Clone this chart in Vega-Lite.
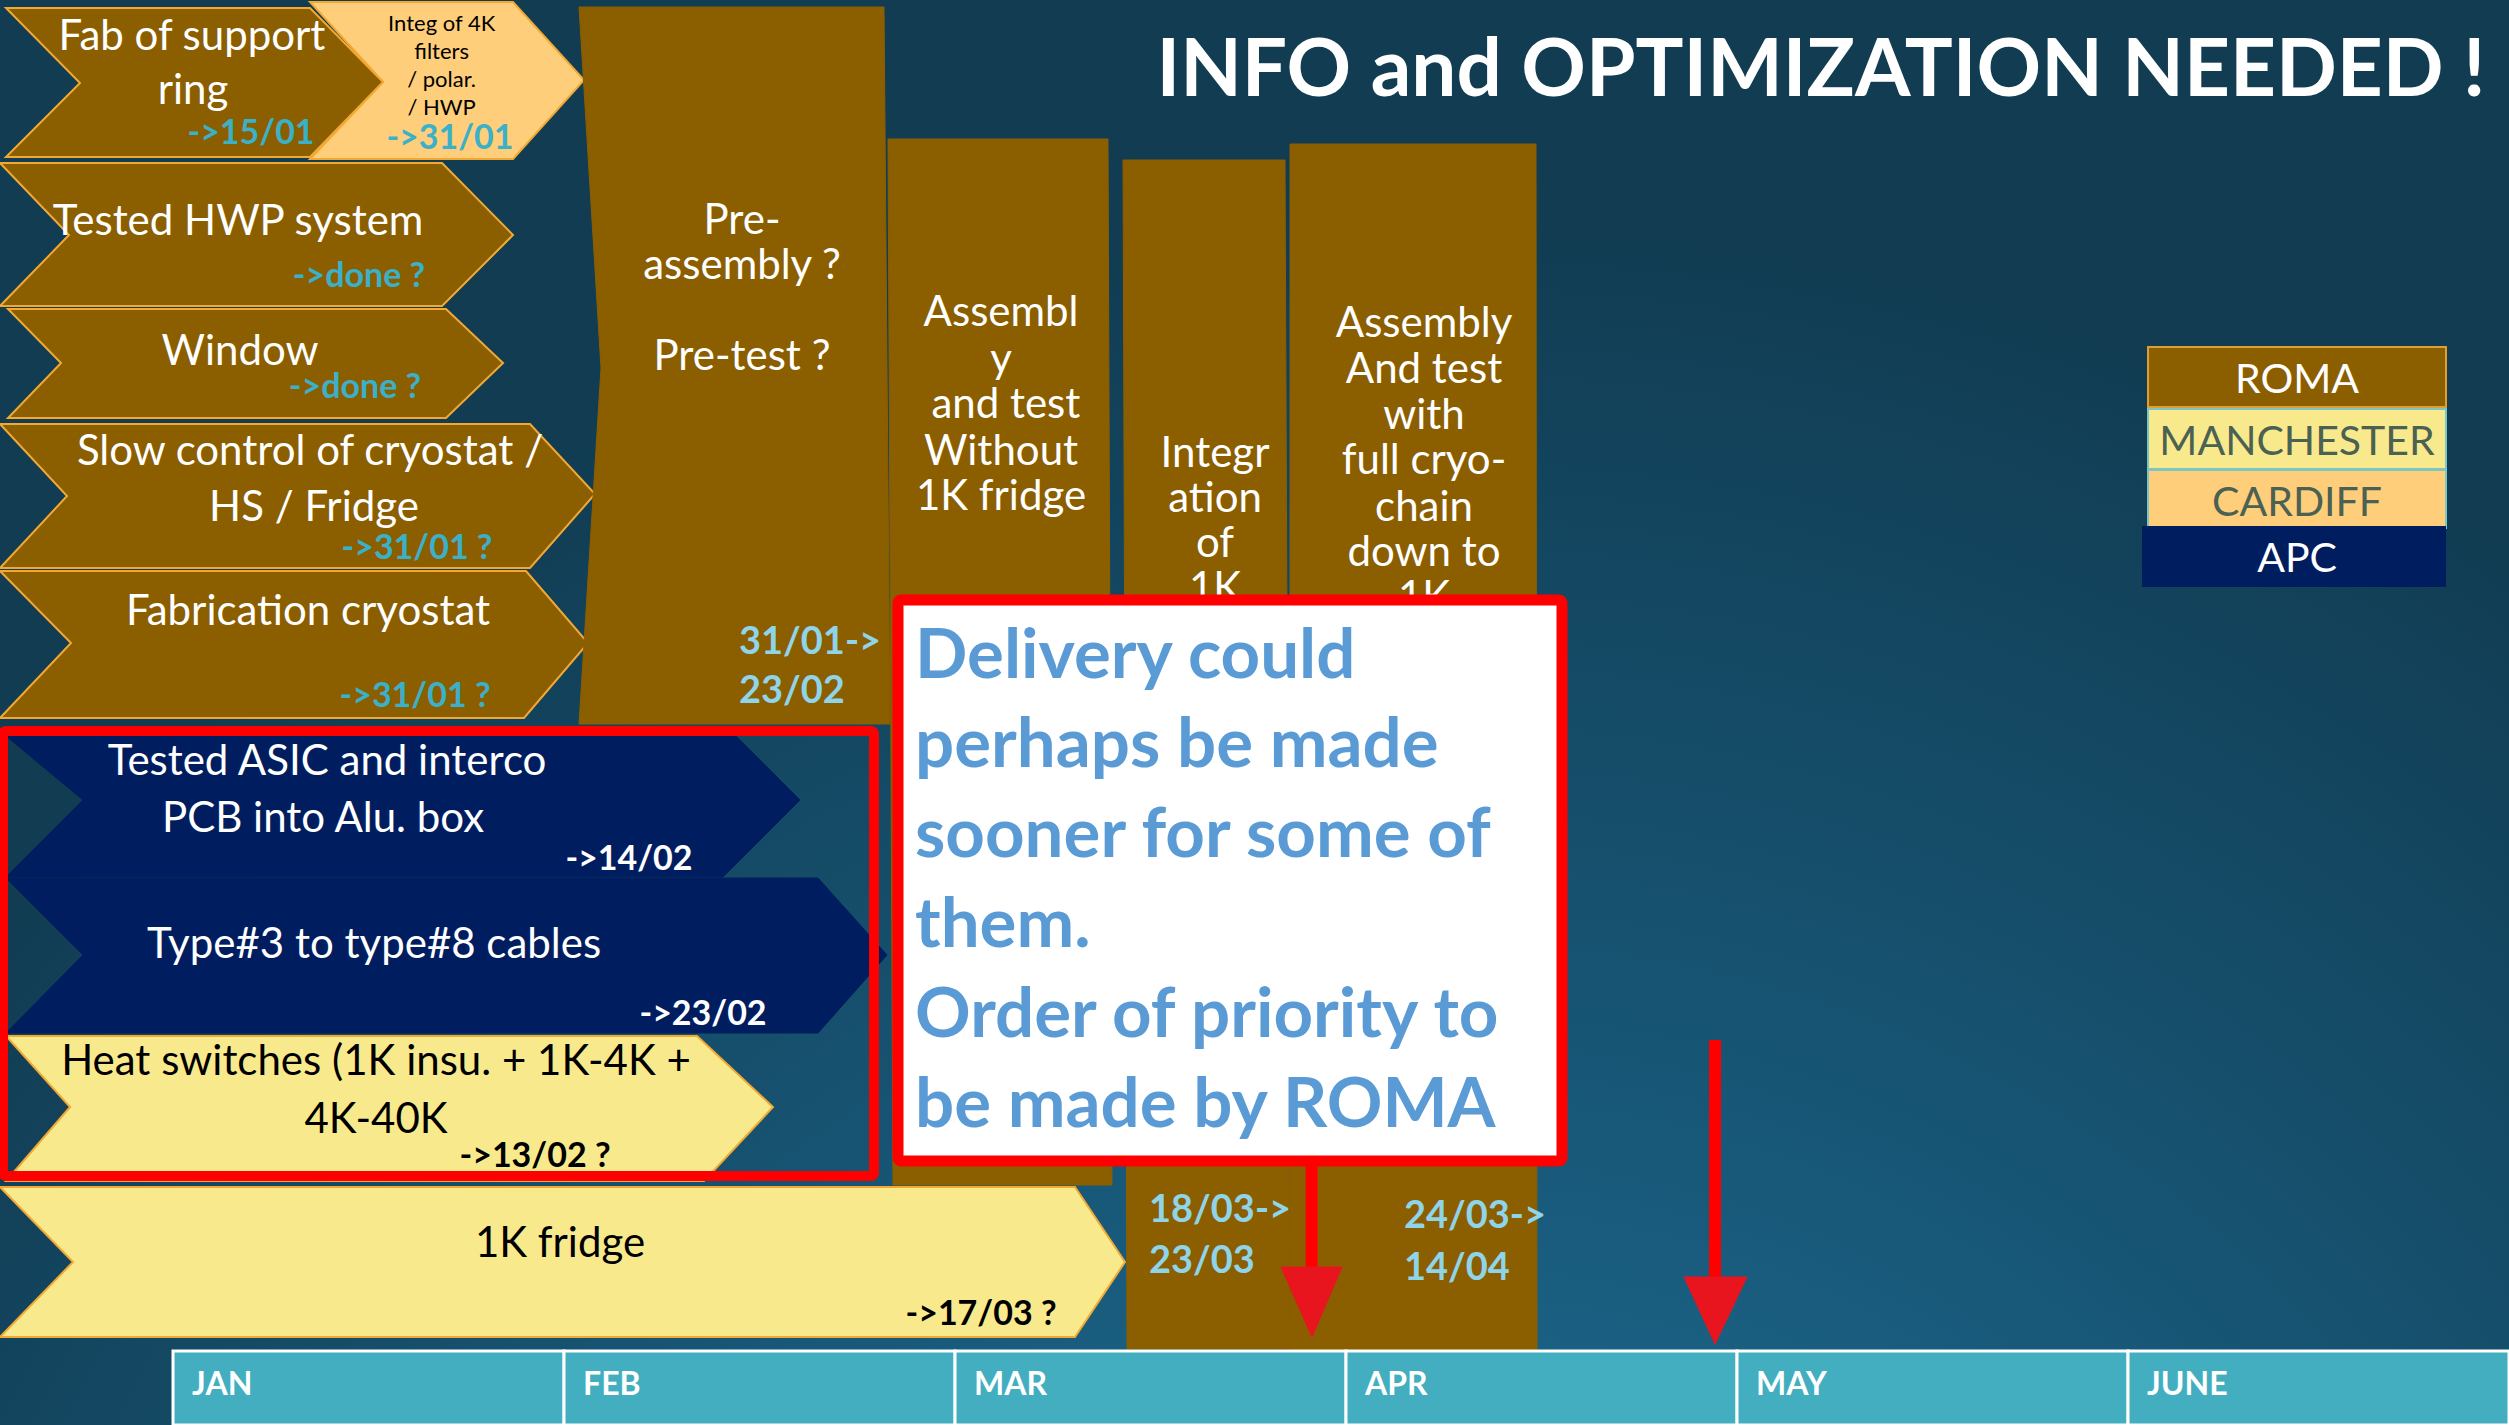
{
"$schema": "https://vega.github.io/schema/vega-lite/v6.json",
"width": 2509, "height": 1425, "autosize": "none", "padding": 0,
"background": "#113C52",
"config": {"view": {"stroke": null}},
"datasets": {
"poly": [
{"g":"cardiff","id":"B","o":1,"x":0.3504,"y":2},{"g":"cardiff","id":"B","o":2,"x":0.8696,"y":2},{"g":"cardiff","id":"B","o":3,"x":1.0512,"y":80},{"g":"cardiff","id":"B","o":4,"x":0.8696,"y":159},{"g":"cardiff","id":"B","o":5,"x":0.3504,"y":159},{"g":"cardiff","id":"B","o":6,"x":0.5371,"y":82},
{"g":"romac","id":"A","o":1,"x":-0.4271,"y":8},{"g":"romac","id":"A","o":2,"x":0.3504,"y":8},{"g":"romac","id":"A","o":3,"x":0.5371,"y":82},{"g":"romac","id":"A","o":4,"x":0.3504,"y":157},{"g":"romac","id":"A","o":5,"x":-0.4271,"y":157},{"g":"romac","id":"A","o":6,"x":-0.2379,"y":83},
{"g":"romac","id":"C","o":1,"x":-0.4425,"y":163},{"g":"romac","id":"C","o":2,"x":0.6880,"y":163},{"g":"romac","id":"C","o":3,"x":0.8696,"y":235},{"g":"romac","id":"C","o":4,"x":0.6880,"y":306},{"g":"romac","id":"C","o":5,"x":-0.4425,"y":306},{"g":"romac","id":"C","o":6,"x":-0.2660,"y":235},
{"g":"romac","id":"D","o":1,"x":-0.4220,"y":309},{"g":"romac","id":"D","o":2,"x":0.6982,"y":309},{"g":"romac","id":"D","o":3,"x":0.8440,"y":363},{"g":"romac","id":"D","o":4,"x":0.6982,"y":418},{"g":"romac","id":"D","o":5,"x":-0.4220,"y":418},{"g":"romac","id":"D","o":6,"x":-0.2864,"y":363},
{"g":"romac","id":"E","o":1,"x":-0.4425,"y":424},{"g":"romac","id":"E","o":2,"x":0.9130,"y":424},{"g":"romac","id":"E","o":3,"x":1.0793,"y":494},{"g":"romac","id":"E","o":4,"x":0.9130,"y":568},{"g":"romac","id":"E","o":5,"x":-0.4425,"y":568},{"g":"romac","id":"E","o":6,"x":-0.2711,"y":496},
{"g":"romac","id":"F","o":1,"x":-0.4425,"y":571},{"g":"romac","id":"F","o":2,"x":0.9028,"y":571},{"g":"romac","id":"F","o":3,"x":1.0614,"y":643},{"g":"romac","id":"F","o":4,"x":0.8977,"y":718},{"g":"romac","id":"F","o":5,"x":-0.4425,"y":718},{"g":"romac","id":"F","o":6,"x":-0.2609,"y":643},
{"g":"apc","id":"K","o":1,"x":-0.4271,"y":736},{"g":"apc","id":"K","o":2,"x":1.4399,"y":736},{"g":"apc","id":"K","o":3,"x":1.6036,"y":800},{"g":"apc","id":"K","o":4,"x":1.4066,"y":877},{"g":"apc","id":"K","o":5,"x":-0.4271,"y":877},{"g":"apc","id":"K","o":6,"x":-0.2302,"y":800},
{"g":"apc","id":"K2","o":1,"x":-0.4271,"y":878},{"g":"apc","id":"K2","o":2,"x":1.6496,"y":878},{"g":"apc","id":"K2","o":3,"x":1.8261,"y":955},{"g":"apc","id":"K2","o":4,"x":1.6496,"y":1033},{"g":"apc","id":"K2","o":5,"x":-0.4271,"y":1033},{"g":"apc","id":"K2","o":6,"x":-0.2302,"y":955},
{"g":"manch","id":"L","o":1,"x":-0.4271,"y":1036},{"g":"manch","id":"L","o":2,"x":1.3402,"y":1036},{"g":"manch","id":"L","o":3,"x":1.5345,"y":1107},{"g":"manch","id":"L","o":4,"x":1.3581,"y":1181},{"g":"manch","id":"L","o":5,"x":-0.4271,"y":1181},{"g":"manch","id":"L","o":6,"x":-0.2634,"y":1107},
{"g":"manch","id":"M","o":1,"x":-0.4425,"y":1187},{"g":"manch","id":"M","o":2,"x":2.3069,"y":1187},{"g":"manch","id":"M","o":3,"x":2.4348,"y":1262},{"g":"manch","id":"M","o":4,"x":2.3069,"y":1337},{"g":"manch","id":"M","o":5,"x":-0.4425,"y":1337},{"g":"manch","id":"M","o":6,"x":-0.2558,"y":1262},
{"g":"romab","id":"G","o":1,"x":1.0384,"y":7},{"g":"romab","id":"G","o":2,"x":1.8184,"y":7},{"g":"romab","id":"G","o":3,"x":1.8338,"y":724},{"g":"romab","id":"G","o":4,"x":1.0384,"y":724},{"g":"romab","id":"G","o":5,"x":1.0946,"y":368},
{"g":"romab","id":"H","o":1,"x":1.8286,"y":139},{"g":"romab","id":"H","o":2,"x":2.3913,"y":139},{"g":"romab","id":"H","o":3,"x":2.4015,"y":1185},{"g":"romab","id":"H","o":4,"x":1.8414,"y":1185},
{"g":"romab","id":"I","o":1,"x":2.4297,"y":160},{"g":"romab","id":"I","o":2,"x":2.8440,"y":160},{"g":"romab","id":"I","o":3,"x":2.8568,"y":1349},{"g":"romab","id":"I","o":4,"x":2.4399,"y":1349},
{"g":"romab","id":"J","o":1,"x":2.8568,"y":144},{"g":"romab","id":"J","o":2,"x":3.4859,"y":144},{"g":"romab","id":"J","o":3,"x":3.4885,"y":1351},{"g":"romab","id":"J","o":4,"x":2.8568,"y":1351},
{"g":"arrow","id":"T1","o":1,"x":2.8338,"y":1267},{"g":"arrow","id":"T1","o":2,"x":2.9898,"y":1267},{"g":"arrow","id":"T1","o":3,"x":2.9130,"y":1337},
{"g":"arrow","id":"T2","o":1,"x":3.8645,"y":1277},{"g":"arrow","id":"T2","o":2,"x":4.0256,"y":1277},{"g":"arrow","id":"T2","o":3,"x":3.9437,"y":1344}
],
"rects": [
{"g":"bg","k":"bg","x":-0.4425,"x2":5.9744,"y":0,"y2":1425},
{"g":"white","k":"note","x":1.8542,"x2":3.5524,"y":600,"y2":1161},
{"g":"red","k":"frame","x":-0.4348,"x2":1.7928,"y":731,"y2":1176},
{"g":"legend","k":"ROMA","x":5.0512,"x2":5.8133,"y":347,"y2":407},
{"g":"legend","k":"MANCHESTER","x":5.0512,"x2":5.8133,"y":409,"y2":469},
{"g":"legend","k":"CARDIFF","x":5.0512,"x2":5.8133,"y":470,"y2":528},
{"g":"legend","k":"APC","x":5.0384,"x2":5.8107,"y":527,"y2":586}
],
"months": [
{"t":"JAN","x":0,"x2":1,"y":1351,"y2":1425},
{"t":"FEB","x":1,"x2":2,"y":1351,"y2":1425},
{"t":"MAR","x":2,"x2":3,"y":1351,"y2":1425},
{"t":"APR","x":3,"x2":4,"y":1351,"y2":1425},
{"t":"MAY","x":4,"x2":5,"y":1351,"y2":1425},
{"t":"JUNE","x":5,"x2":5.9744,"y":1351,"y2":1425}
],
"arrows": [
{"x":2.912,"y":1161,"y2":1272},
{"x":3.9437,"y":1040,"y2":1282}
],
"texts": [
{"k":"task","t":"Fab of support","x":0.0486,"y":50},
{"k":"task","t":"ring","x":0.0512,"y":104},
{"k":"task","t":"Tested HWP system","x":0.1662,"y":235},
{"k":"task","t":"Window","x":0.1714,"y":365},
{"k":"task","t":"Slow control of cryostat /","x":0.3504,"y":465},
{"k":"task","t":"HS / Fridge","x":0.3606,"y":521},
{"k":"task","t":"Fabrication cryostat","x":0.3453,"y":625},
{"k":"task","t":"Pre-","x":1.4552,"y":234},
{"k":"task","t":"assembly ?","x":1.4552,"y":279},
{"k":"task","t":"Pre-test ?","x":1.4552,"y":370},
{"k":"task","t":"Assembl","x":2.1176,"y":326},
{"k":"task","t":"y","x":2.1176,"y":373},
{"k":"task","t":"and test","x":2.1300,"y":418},
{"k":"task","t":"Without","x":2.1176,"y":465},
{"k":"task","t":"1K fridge","x":2.1176,"y":510},
{"k":"task","t":"Integr","x":2.6650,"y":467},
{"k":"task","t":"ation","x":2.6650,"y":512},
{"k":"task","t":"of","x":2.6650,"y":557},
{"k":"task","t":"1K","x":2.6650,"y":602},
{"k":"task","t":"Assembly","x":3.1995,"y":337},
{"k":"task","t":"And test","x":3.1995,"y":383},
{"k":"task","t":"with","x":3.1995,"y":429},
{"k":"task","t":"full cryo-","x":3.1995,"y":474},
{"k":"task","t":"chain","x":3.1995,"y":521},
{"k":"task","t":"down to","x":3.1995,"y":566},
{"k":"task","t":"1K","x":3.1995,"y":611},
{"k":"task","t":"Tested ASIC and interco","x":0.3939,"y":775},
{"k":"task","t":"PCB into Alu. box","x":0.3836,"y":832},
{"k":"task","t":"Type#3 to type#8 cables","x":0.5141,"y":958},
{"k":"taskb","t":"Heat switches (1K insu. + 1K-4K +","x":0.5192,"y":1075},
{"k":"taskb","t":"4K-40K","x":0.5192,"y":1133},
{"k":"taskb","t":"1K fridge","x":0.9898,"y":1257},
{"k":"tiny","t":"Integ of 4K","x":0.687,"y":31},
{"k":"tiny","t":"filters","x":0.687,"y":59},
{"k":"tiny","t":"/ polar.","x":0.687,"y":87},
{"k":"tiny","t":"/ HWP","x":0.687,"y":115},
{"k":"due","t":"->15/01","x":0.1995,"y":144},
{"k":"due","t":"->31/01","x":0.7084,"y":149},
{"k":"due","t":"->done ?","x":0.4757,"y":287},
{"k":"due","t":"->done ?","x":0.4655,"y":398},
{"k":"due","t":"->31/01 ?","x":0.6240,"y":559},
{"k":"due","t":"->31/01 ?","x":0.6189,"y":707},
{"k":"dueb","t":"->13/02 ?","x":0.9258,"y":1167},
{"k":"dueb","t":"->17/03 ?","x":2.0665,"y":1325},
{"k":"duew","t":"->14/02","x":1.1662,"y":870},
{"k":"duew","t":"->23/02","x":1.3555,"y":1025},
{"k":"span","t":"31/01->","x":1.4476,"y":654},
{"k":"span","t":"23/02","x":1.4476,"y":703},
{"k":"span","t":"18/03->","x":2.4962,"y":1222},
{"k":"span","t":"23/03","x":2.4962,"y":1273},
{"k":"span","t":"24/03->","x":3.1483,"y":1228},
{"k":"span","t":"14/04","x":3.1483,"y":1280},
{"k":"note","t":"Delivery could","x":1.8977,"y":678},
{"k":"note","t":"perhaps be made","x":1.8977,"y":767},
{"k":"note","t":"sooner for some of","x":1.8977,"y":857},
{"k":"note","t":"them.","x":1.8977,"y":947},
{"k":"note","t":"Order of priority to","x":1.8977,"y":1037},
{"k":"note","t":"be made by ROMA","x":1.8977,"y":1127},
{"k":"leg","t":"ROMA","x":5.4322,"y":393},
{"k":"leg","t":"MANCHESTER","x":5.4322,"y":455},
{"k":"leg","t":"CARDIFF","x":5.4322,"y":516},
{"k":"leg","t":"APC","x":5.4322,"y":572},
{"k":"title","t":"INFO and OPTIMIZATION NEEDED !","x":4.2148,"y":96}
]
},
"encoding": {
"x": {"field":"x","type":"quantitative","scale":{"domain":[-0.4425,5.9744],"nice":false,"zero":false},"axis":null},
"y": {"field":"y","type":"quantitative","scale":{"domain":[0,1425],"reverse":true,"nice":false,"zero":false},"axis":null}
},
"layer": [
{"data":{"name":"rects"},"transform":[{"filter":"datum.g==='bg'"}],
 "mark":{"type":"rect","fill":{"gradient":"radial","x1":0.58,"y1":1.05,"r1":0,"x2":0.58,"y2":1.05,"r2":0.75,"stops":[{"offset":0,"color":"#237BA1"},{"offset":0.5,"color":"#18597A"},{"offset":1,"color":"#113C52"}]}},
 "encoding":{"x2":{"field":"x2"},"y2":{"field":"y2"}}},
{"data":{"name":"poly"},"transform":[{"filter":"datum.g==='cardiff'"}],
 "mark":{"type":"line","interpolate":"linear-closed","fill":"#FECE7A","stroke":"#F2A933","strokeWidth":2},
 "encoding":{"detail":{"field":"id"},"order":{"field":"o","type":"quantitative"}}},
{"data":{"name":"poly"},"transform":[{"filter":"datum.g==='romac'"}],
 "mark":{"type":"line","interpolate":"linear-closed","fill":"#8B5E00","stroke":"#F2A933","strokeWidth":2},
 "encoding":{"detail":{"field":"id"},"order":{"field":"o","type":"quantitative"}}},
{"data":{"name":"poly"},"transform":[{"filter":"datum.g==='apc'"}],
 "mark":{"type":"line","interpolate":"linear-closed","fill":"#001E5F","stroke":"#001E5F","strokeWidth":1},
 "encoding":{"detail":{"field":"id"},"order":{"field":"o","type":"quantitative"}}},
{"data":{"name":"poly"},"transform":[{"filter":"datum.g==='manch'"}],
 "mark":{"type":"line","interpolate":"linear-closed","fill":"#F8EA8C","stroke":"#F2A933","strokeWidth":2},
 "encoding":{"detail":{"field":"id"},"order":{"field":"o","type":"quantitative"}}},
{"data":{"name":"poly"},"transform":[{"filter":"datum.g==='romab'"}],
 "mark":{"type":"line","interpolate":"linear-closed","fill":"#8B5E00","stroke":"#8B5E00","strokeWidth":1},
 "encoding":{"detail":{"field":"id"},"order":{"field":"o","type":"quantitative"}}},
{"data":{"name":"texts"},"transform":[{"filter":"datum.k==='task'"}],
 "mark":{"type":"text","align":"center","baseline":"alphabetic","font":"Lato","fontSize":42,"fill":"#FFFFFF"},
 "encoding":{"text":{"field":"t"}}},
{"data":{"name":"texts"},"transform":[{"filter":"datum.k==='taskb'"}],
 "mark":{"type":"text","align":"center","baseline":"alphabetic","font":"Lato","fontSize":42,"fill":"#000000"},
 "encoding":{"text":{"field":"t"}}},
{"data":{"name":"texts"},"transform":[{"filter":"datum.k==='tiny'"}],
 "mark":{"type":"text","align":"center","baseline":"alphabetic","font":"Lato","fontSize":22,"fill":"#000000"},
 "encoding":{"text":{"field":"t"}}},
{"data":{"name":"texts"},"transform":[{"filter":"datum.k==='due'"}],
 "mark":{"type":"text","align":"center","baseline":"alphabetic","font":"Lato","fontSize":34,"fontWeight":"bold","fill":"#3BB0C9"},
 "encoding":{"text":{"field":"t"}}},
{"data":{"name":"texts"},"transform":[{"filter":"datum.k==='dueb'"}],
 "mark":{"type":"text","align":"center","baseline":"alphabetic","font":"Lato","fontSize":34,"fontWeight":"bold","fill":"#000000"},
 "encoding":{"text":{"field":"t"}}},
{"data":{"name":"texts"},"transform":[{"filter":"datum.k==='duew'"}],
 "mark":{"type":"text","align":"center","baseline":"alphabetic","font":"Lato","fontSize":34,"fontWeight":"bold","fill":"#FFFFFF"},
 "encoding":{"text":{"field":"t"}}},
{"data":{"name":"texts"},"transform":[{"filter":"datum.k==='span'"}],
 "mark":{"type":"text","align":"left","baseline":"alphabetic","font":"Lato","fontSize":38,"fontWeight":"bold","fill":"#8FD4E8"},
 "encoding":{"text":{"field":"t"}}},
{"data":{"name":"rects"},"transform":[{"filter":"datum.g==='white'"}],
 "mark":{"type":"rect","fill":"#FFFFFF","stroke":"#FF0000","strokeWidth":11,"cornerRadius":3},
 "encoding":{"x2":{"field":"x2"},"y2":{"field":"y2"}}},
{"data":{"name":"texts"},"transform":[{"filter":"datum.k==='note'"}],
 "mark":{"type":"text","align":"left","baseline":"alphabetic","font":"Lato","fontSize":69,"fontWeight":"bold","fill":"#5B9BD5"},
 "encoding":{"text":{"field":"t"}}},
{"data":{"name":"rects"},"transform":[{"filter":"datum.g==='red'"}],
 "mark":{"type":"rect","filled":false,"stroke":"#FF0000","strokeWidth":10,"cornerRadius":3},
 "encoding":{"x2":{"field":"x2"},"y2":{"field":"y2"}}},
{"data":{"name":"arrows"},
 "mark":{"type":"rule","stroke":"#FF0000","strokeWidth":12},
 "encoding":{"y2":{"field":"y2"}}},
{"data":{"name":"poly"},"transform":[{"filter":"datum.g==='arrow'"}],
 "mark":{"type":"line","interpolate":"linear-closed","fill":"#E8151E","stroke":"#E8151E","strokeWidth":1},
 "encoding":{"detail":{"field":"id"},"order":{"field":"o","type":"quantitative"}}},
{"data":{"name":"months"},
 "mark":{"type":"rect","fill":"#42AEBF","stroke":"#FFFFFF","strokeWidth":3},
 "encoding":{"x2":{"field":"x2"},"y2":{"field":"y2"}}},
{"data":{"name":"months"},
 "mark":{"type":"text","align":"left","baseline":"alphabetic","dx":19,"dy":44,"font":"Lato","fontSize":32,"fontWeight":"bold","fill":"#FFFFFF"},
 "encoding":{"text":{"field":"t"}}},
{"data":{"name":"rects"},"transform":[{"filter":"datum.g==='legend'"}],
 "mark":{"type":"rect","strokeWidth":2},
 "encoding":{"x2":{"field":"x2"},"y2":{"field":"y2"},
  "fill":{"field":"k","type":"nominal","scale":{"domain":["ROMA","MANCHESTER","CARDIFF","APC"],"range":["#8B5E00","#F8EA8C","#FECE7A","#001E5F"]},"legend":null},
  "stroke":{"field":"k","type":"nominal","scale":{"domain":["ROMA","MANCHESTER","CARDIFF","APC"],"range":["#E0A030","#7EC6C4","#7EC6C4","#001E5F"]},"legend":null}}},
{"data":{"name":"texts"},"transform":[{"filter":"datum.k==='leg'"}],
 "mark":{"type":"text","align":"center","baseline":"alphabetic","font":"Lato","fontSize":41},
 "encoding":{"text":{"field":"t"},
  "color":{"field":"t","type":"nominal","scale":{"domain":["ROMA","MANCHESTER","CARDIFF","APC"],"range":["#FFFFFF","#4B6152","#4B6152","#FFFFFF"]},"legend":null}}},
{"data":{"name":"texts"},"transform":[{"filter":"datum.k==='title'"}],
 "mark":{"type":"text","align":"center","baseline":"alphabetic","font":"Lato","fontSize":80,"fontWeight":"bold","fill":"#FFFFFF"},
 "encoding":{"text":{"field":"t"}}}
]
}
